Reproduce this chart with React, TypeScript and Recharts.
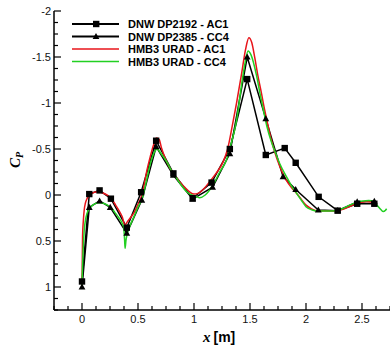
import { ComposedChart, Line, XAxis, YAxis } from 'recharts';

// ── Data ───────────────────────────────────────────

const dp2192X = [0, 0.065, 0.157, 0.258, 0.4, 0.528, 0.662, 0.816, 0.988, 1.157, 1.32, 1.475, 1.641, 1.81, 1.908, 2.113, 2.283, 2.457, 2.61];
const dp2192Cp = [0.94, -0.01, -0.05, 0.04, 0.355, -0.03, -0.59, -0.235, 0.035, -0.135, -0.5, -1.26, -0.435, -0.51, -0.35, 0.02, 0.17, 0.095, 0.095];

const dp2385X = [0, 0.065, 0.157, 0.252, 0.4, 0.534, 0.662, 0.816, 0.988, 1.166, 1.32, 1.475, 1.641, 1.795, 1.908, 2.11, 2.283, 2.457, 2.61];
const dp2385Cp = [1.0, 0.135, 0.065, 0.135, 0.415, 0.055, -0.525, -0.215, 0.045, -0.085, -0.45, -1.5, -0.83, -0.2, -0.06, 0.163, 0.17, 0.075, 0.068];

const ac1X = [0, 0.002, 0.005, 0.012, 0.02, 0.03, 0.045, 0.06, 0.08, 0.11, 0.14, 0.18, 0.23, 0.27, 0.3, 0.33, 0.36, 0.383, 0.4, 0.43, 0.466, 0.5, 0.54, 0.58, 0.61, 0.64, 0.665, 0.69, 0.71, 0.75, 0.786, 0.83, 0.875, 0.92, 0.964, 1.0, 1.04, 1.09, 1.14, 1.2, 1.26, 1.3, 1.34, 1.38, 1.425, 1.46, 1.49, 1.515, 1.543, 1.57, 1.6, 1.63, 1.66, 1.69, 1.72, 1.766, 1.825, 1.87, 1.915, 1.96, 2.0, 2.05, 2.09, 2.15, 2.21, 2.27, 2.33, 2.39, 2.447, 2.49, 2.537, 2.58, 2.61, 2.63];
const ac1Cp = [1.0, 0.8, 0.45, 0.28, 0.16, 0.09, 0.04, 0.01, -0.01, -0.03, -0.035, -0.025, 0.005, 0.05, 0.11, 0.17, 0.24, 0.33, 0.3, 0.25, 0.19, 0.1, -0.02, -0.27, -0.42, -0.55, -0.62, -0.6, -0.51, -0.38, -0.29, -0.21, -0.14, -0.08, -0.03, -0.01, -0.02, -0.07, -0.145, -0.24, -0.36, -0.5, -0.74, -1.0, -1.32, -1.58, -1.71, -1.66, -1.49, -1.3, -1.12, -0.93, -0.76, -0.6, -0.47, -0.31, -0.16, -0.08, -0.02, 0.05, 0.11, 0.15, 0.17, 0.175, 0.175, 0.17, 0.155, 0.125, 0.095, 0.08, 0.07, 0.075, 0.09, 0.11];

const cc4X = [0, 0.003, 0.01, 0.02, 0.03, 0.045, 0.06, 0.08, 0.11, 0.154, 0.19, 0.228, 0.27, 0.3, 0.33, 0.36, 0.372, 0.38, 0.385, 0.392, 0.4, 0.43, 0.466, 0.5, 0.54, 0.58, 0.608, 0.64, 0.673, 0.7, 0.757, 0.8, 0.846, 0.89, 0.935, 0.98, 1.024, 1.05, 1.1, 1.17, 1.23, 1.29, 1.33, 1.365, 1.38, 1.425, 1.455, 1.483, 1.51, 1.558, 1.59, 1.617, 1.65, 1.69, 1.73, 1.766, 1.825, 1.87, 1.915, 1.96, 2.0, 2.05, 2.1, 2.17, 2.27, 2.33, 2.39, 2.45, 2.507, 2.56, 2.61, 2.64, 2.67, 2.69, 2.71, 2.72];
const cc4Cp = [1.0, 0.85, 0.6, 0.38, 0.28, 0.2, 0.16, 0.127, 0.1, 0.085, 0.09, 0.11, 0.15, 0.2, 0.25, 0.31, 0.35, 0.48, 0.58, 0.5, 0.44, 0.33, 0.23, 0.13, 0.03, -0.18, -0.33, -0.45, -0.5, -0.46, -0.36, -0.26, -0.18, -0.1, -0.036, 0.0, 0.018, 0.03, 0.0, -0.11, -0.25, -0.38, -0.55, -0.72, -0.81, -1.2, -1.43, -1.565, -1.52, -1.3, -1.1, -0.94, -0.75, -0.58, -0.45, -0.34, -0.2, -0.1, -0.02, 0.06, 0.127, 0.16, 0.175, 0.175, 0.17, 0.145, 0.11, 0.08, 0.065, 0.06, 0.073, 0.12, 0.16, 0.18, 0.165, 0.15];

const xMajorTicks = [0, 0.5, 1, 1.5, 2, 2.5];
const xMajorLabels = ['0', '0.5', '1', '1.5', '2', '2.5'];
const xMinorTicks = [-0.25, -0.125, 0.125, 0.25, 0.375, 0.625, 0.75, 0.875, 1.125, 1.25, 1.375, 1.625, 1.75, 1.875, 2.125, 2.25, 2.375, 2.625, 2.75];

const yMajorTicks = [-2, -1.5, -1, -0.5, 0, 0.5, 1];
const yMajorLabels = ['-2', '-1.5', '-1', '-0.5', '0', '0.5', '1'];
const yMinorTicks = [-1.875, -1.75, -1.625, -1.375, -1.25, -1.125, -0.875, -0.75, -0.625, -0.375, -0.25, -0.125, 0.125, 0.25, 0.375, 0.625, 0.75, 0.875, 1.125, 1.25];

const seriesNames = ['DNW DP2192 - AC1', 'DNW DP2385 - CC4', 'HMB3 URAD - AC1', 'HMB3 URAD - CC4'];

const RED = '#e8141a';
const GREEN = '#22d022';
const SANS = '"Liberation Sans", Arial, Helvetica, sans-serif';
const SERIF = '"Liberation Serif", "Times New Roman", serif';

const toRows = (xs: number[], ys: number[]) => xs.map((x, i) => ({ x, cp: ys[i] }));

const dp2192 = toRows(dp2192X, dp2192Cp);
const dp2385 = toRows(dp2385X, dp2385Cp);
const ac1 = toRows(ac1X, ac1Cp);
const cc4 = toRows(cc4X, cc4Cp);

const allXTicks = [...xMajorTicks, ...xMinorTicks].sort((a, b) => a - b);
const allYTicks = [...yMajorTicks, ...yMinorTicks].sort((a, b) => a - b);

// ── Ticks (pointing into the plot) ─────────────────

function XTick({ x, y, payload }: any) {
  const i = xMajorTicks.indexOf(payload.value);
  const major = i >= 0;
  return (
    <g>
      <line x1={x} y1={y} x2={x} y2={y - (major ? 7 : 4)} stroke="#000" strokeWidth={1.2} />
      {major && (
        <text x={x} y={y + 13} textAnchor="middle" fontFamily={SANS} fontSize={11} fill="#111">
          {xMajorLabels[i]}
        </text>
      )}
    </g>
  );
}

function YTick({ x, y, payload }: any) {
  const i = yMajorTicks.indexOf(payload.value);
  const major = i >= 0;
  return (
    <g>
      <line x1={x} y1={y} x2={x + (major ? 7 : 4)} y2={y} stroke="#000" strokeWidth={1.2} />
      {major && (
        <text x={x - 3} y={y + 4} textAnchor="end" fontFamily={SANS} fontSize={11} fill="#111">
          {yMajorLabels[i]}
        </text>
      )}
    </g>
  );
}

// ── Markers ────────────────────────────────────────

function SquareDot({ cx, cy, index }: any) {
  return <rect key={`sq-${index}`} x={cx - 3.2} y={cy - 3.2} width={6.4} height={6.4} fill="#000" />;
}

function TriangleDot({ cx, cy, index }: any) {
  return (
    <polygon
      key={`tri-${index}`}
      points={`${cx},${cy - 3.6} ${cx - 3.4},${cy + 2.6} ${cx + 3.4},${cy + 2.6}`}
      fill="#000"
    />
  );
}

// ── Component ──────────────────────────────────────

export default function App() {
  const rows = [24, 36.5, 49, 61.5];
  return (
    <div style={{ position: 'absolute', left: 0, top: 0, width: 390, height: 354, background: '#fff' }}>
      <ComposedChart width={390} height={354} margin={{ top: 11, right: 0, bottom: 0, left: 0 }}>
        <XAxis
          dataKey="x"
          type="number"
          domain={[-0.25, 2.75]}
          ticks={allXTicks}
          interval={0}
          height={44}
          tickSize={0}
          tickMargin={0}
          tickLine={false}
          tick={<XTick />}
          axisLine={{ stroke: '#000', strokeWidth: 1.5 }}
          allowDataOverflow
        />
        <YAxis
          type="number"
          reversed
          domain={[-2, 1.25]}
          ticks={allYTicks}
          interval={0}
          width={54}
          tickSize={0}
          tickMargin={0}
          tickLine={false}
          tick={<YTick />}
          axisLine={{ stroke: '#000', strokeWidth: 1.5 }}
          allowDataOverflow
        />
        <Line data={dp2192} dataKey="cp" type="linear" stroke="#000" strokeWidth={1.5} dot={SquareDot} isAnimationActive={false} />
        <Line data={dp2385} dataKey="cp" type="linear" stroke="#000" strokeWidth={1.5} dot={TriangleDot} isAnimationActive={false} />
        <Line data={ac1} dataKey="cp" type="monotone" stroke={RED} strokeWidth={1.5} dot={false} isAnimationActive={false} />
        <Line data={cc4} dataKey="cp" type="monotone" stroke={GREEN} strokeWidth={1.5} dot={false} isAnimationActive={false} />
      </ComposedChart>

      <svg width={390} height={354} style={{ position: 'absolute', left: 0, top: 0, pointerEvents: 'none' }}>
        {/* legend */}
        {seriesNames.map((name, i) => (
          <g key={name}>
            <line
              x1={72}
              x2={119}
              y1={rows[i]}
              y2={rows[i]}
              stroke={i < 2 ? '#000' : i === 2 ? RED : GREEN}
              strokeWidth={i < 2 ? 2 : 1.5}
            />
            {i === 0 && <rect x={93} y={rows[i] - 3.2} width={6.4} height={6.4} fill="#000" />}
            {i === 1 && (
              <polygon
                points={`96,${rows[i] - 3.6} 92.6,${rows[i] + 2.6} 99.4,${rows[i] + 2.6}`}
                fill="#000"
              />
            )}
            <text x={128} y={rows[i] + 4} fontFamily={SANS} fontWeight="bold" fontSize={11} fill="#000">
              {name}
            </text>
          </g>
        ))}

        {/* axis titles */}
        <text x={203} y={342} fill="#000">
          <tspan fontFamily={SERIF} fontStyle="italic" fontWeight="bold" fontSize={15}>x</tspan>
          <tspan fontFamily={SANS} fontWeight="bold" fontSize={14} dx={3}>[m]</tspan>
        </text>
        <text transform="translate(20,168) rotate(-90)" fill="#000">
          <tspan fontFamily={SERIF} fontStyle="italic" fontWeight="bold" fontSize={15}>C</tspan>
          <tspan fontFamily={SERIF} fontStyle="italic" fontWeight="bold" fontSize={10} dy={3}>P</tspan>
        </text>
      </svg>
    </div>
  );
}
